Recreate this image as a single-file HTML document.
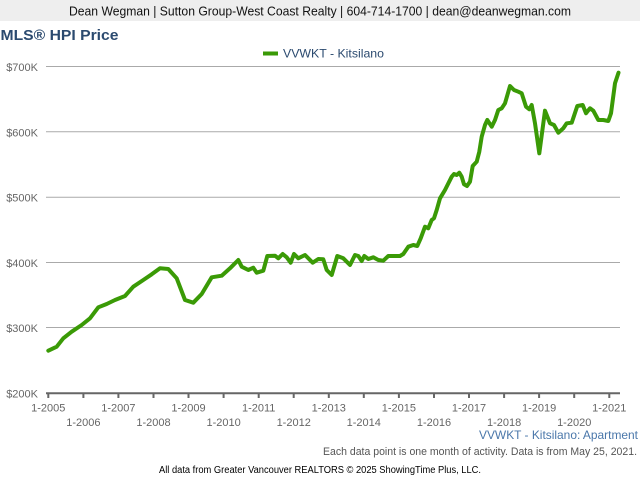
<!DOCTYPE html>
<html>
<head>
<meta charset="utf-8">
<style>
  html, body { margin: 0; padding: 0; background: #ffffff; }
  svg { display: block; }
  text { font-family: "Liberation Sans", Arial, sans-serif; }
</style>
</head>
<body>
<svg width="640" height="480" viewBox="0 0 640 480" xmlns="http://www.w3.org/2000/svg">
  <rect x="0" y="0" width="640" height="480" fill="#ffffff"/>
  <!-- header bar -->
  <rect x="0" y="0" width="640" height="21" fill="#eeeeee"/>
  <text x="320" y="15.5" font-size="12.5" fill="#111111" text-anchor="middle" textLength="502" lengthAdjust="spacingAndGlyphs">Dean Wegman | Sutton Group-West Coast Realty | 604-714-1700 | dean@deanwegman.com</text>

  <!-- title -->
  <text x="0.5" y="40" font-size="15" font-weight="bold" fill="#2b4a6f" textLength="118" lengthAdjust="spacingAndGlyphs">MLS® HPI Price</text>

  <!-- legend -->
  <rect x="263" y="51.5" width="15" height="4" fill="#3a9a06"/>
  <text x="283" y="57.5" font-size="12" fill="#2b4a6f" textLength="101" lengthAdjust="spacingAndGlyphs">VVWKT - Kitsilano</text>

  <!-- grid lines -->
  <g stroke="#aaaaaa" stroke-width="1">
    <line x1="46" y1="66.5" x2="620" y2="66.5"/>
    <line x1="46" y1="131.8" x2="620" y2="131.8"/>
    <line x1="46" y1="197.2" x2="620" y2="197.2"/>
    <line x1="46" y1="262.5" x2="620" y2="262.5"/>
    <line x1="46" y1="327.5" x2="620" y2="327.5"/>
  </g>

  <!-- y labels -->
  <g font-size="11" fill="#666666" text-anchor="end">
    <text x="38" y="71">$700K</text>
    <text x="38" y="136.3">$600K</text>
    <text x="38" y="201.7">$500K</text>
    <text x="38" y="267">$400K</text>
    <text x="38" y="332">$300K</text>
    <text x="38" y="397.5">$200K</text>
  </g>

  <!-- x axis -->
  <line x1="46" y1="393.3" x2="620" y2="393.3" stroke="#666666" stroke-width="2"/>
  <g stroke="#666666" stroke-width="2">
    <line x1="48.3" y1="393" x2="48.3" y2="398"/>
    <line x1="83.4" y1="393" x2="83.4" y2="398"/>
    <line x1="118.4" y1="393" x2="118.4" y2="398"/>
    <line x1="153.5" y1="393" x2="153.5" y2="398"/>
    <line x1="188.5" y1="393" x2="188.5" y2="398"/>
    <line x1="223.6" y1="393" x2="223.6" y2="398"/>
    <line x1="258.7" y1="393" x2="258.7" y2="398"/>
    <line x1="293.7" y1="393" x2="293.7" y2="398"/>
    <line x1="328.8" y1="393" x2="328.8" y2="398"/>
    <line x1="363.8" y1="393" x2="363.8" y2="398"/>
    <line x1="398.9" y1="393" x2="398.9" y2="398"/>
    <line x1="434.0" y1="393" x2="434.0" y2="398"/>
    <line x1="469.0" y1="393" x2="469.0" y2="398"/>
    <line x1="504.1" y1="393" x2="504.1" y2="398"/>
    <line x1="539.1" y1="393" x2="539.1" y2="398"/>
    <line x1="574.2" y1="393" x2="574.2" y2="398"/>
    <line x1="609.3" y1="393" x2="609.3" y2="398"/>
  </g>

  <!-- x labels -->
  <g font-size="11" fill="#666666" text-anchor="middle">
    <text x="48.3" y="411.5">1-2005</text>
    <text x="118.4" y="411.5">1-2007</text>
    <text x="188.5" y="411.5">1-2009</text>
    <text x="258.7" y="411.5">1-2011</text>
    <text x="328.8" y="411.5">1-2013</text>
    <text x="398.9" y="411.5">1-2015</text>
    <text x="469.0" y="411.5">1-2017</text>
    <text x="539.1" y="411.5">1-2019</text>
    <text x="609.3" y="411.5">1-2021</text>
    <text x="83.4" y="426">1-2006</text>
    <text x="153.5" y="426">1-2008</text>
    <text x="223.6" y="426">1-2010</text>
    <text x="293.7" y="426">1-2012</text>
    <text x="363.8" y="426">1-2014</text>
    <text x="434.0" y="426">1-2016</text>
    <text x="504.1" y="426">1-2018</text>
    <text x="574.2" y="426">1-2020</text>
  </g>

  <!-- series -->
  <polyline fill="none" stroke="#3a9a06" stroke-width="4" stroke-linejoin="round" stroke-linecap="round"
    points="48.3,350.7 56.7,346.7 63.3,338.3 71.7,331.7 81.7,325 90,318.3 98.3,307.3 106.7,304 115,300 125,296 133.3,286.7 143.3,280 151.7,274.3 160,268.3 168.3,269 176.7,278.3 185,300 193.3,302.7 201.7,294 211.7,277.3 221.7,275.7 230,268.3 238.3,260 241.7,266.7 248.3,270 253.3,267.7 256.7,272.7 263.3,270.7 267.3,256 275,255.7 278.3,258.3 282.7,254 286.7,257.3 290.7,262.7 294,254 298.3,258.3 305,255 312.7,262.7 318.3,259 323.3,259.3 326.7,270 331.7,275 337.3,256 343.3,258.3 350,265 355,255 358.3,256 361.7,261 364.3,256 368.3,259 373.3,257.3 378.3,260 383.3,260.7 388.3,256 400,256 403.3,254 408.3,246.7 413.3,245 417.3,246 420.7,238.3 425,226.7 428.3,228.3 431.7,220 434,218.3 436.7,210 440,198.3 445,190 451.7,176.7 454,174 456.7,175 459.3,172.7 461.7,176.7 464,184.3 467,186 470,181.7 472.7,166 476.7,161.7 479.3,151.7 481.7,136.7 485,125 487.3,120 491.7,126.7 495,120 498.3,110 501.7,108.3 505,103.3 510,86 514,90 518.3,91.7 521.7,93.3 526,106.7 529.3,109.3 531.7,105 535,123.3 539.3,153.3 545,110.7 550,123.3 554,125 558.3,132.7 563.3,128.3 566.7,123.3 571.7,122.7 577.3,106 582.7,105 586,113.3 590,108.3 593.3,110.7 598.3,120 603.3,120 608.3,121 611,113.3 615,83.3 618.5,72.7"/>

  <!-- footer texts -->
  <text x="638" y="439" font-size="12" fill="#4a77aa" text-anchor="end" textLength="159" lengthAdjust="spacingAndGlyphs">VVWKT - Kitsilano: Apartment</text>
  <text x="637" y="455" font-size="11" fill="#555555" text-anchor="end" textLength="314" lengthAdjust="spacingAndGlyphs">Each data point is one month of activity. Data is from May 25, 2021.</text>
  <text x="320" y="473" font-size="10" fill="#000000" text-anchor="middle" textLength="322" lengthAdjust="spacingAndGlyphs">All data from Greater Vancouver REALTORS © 2025 ShowingTime Plus, LLC.</text>
</svg>
</body>
</html>
